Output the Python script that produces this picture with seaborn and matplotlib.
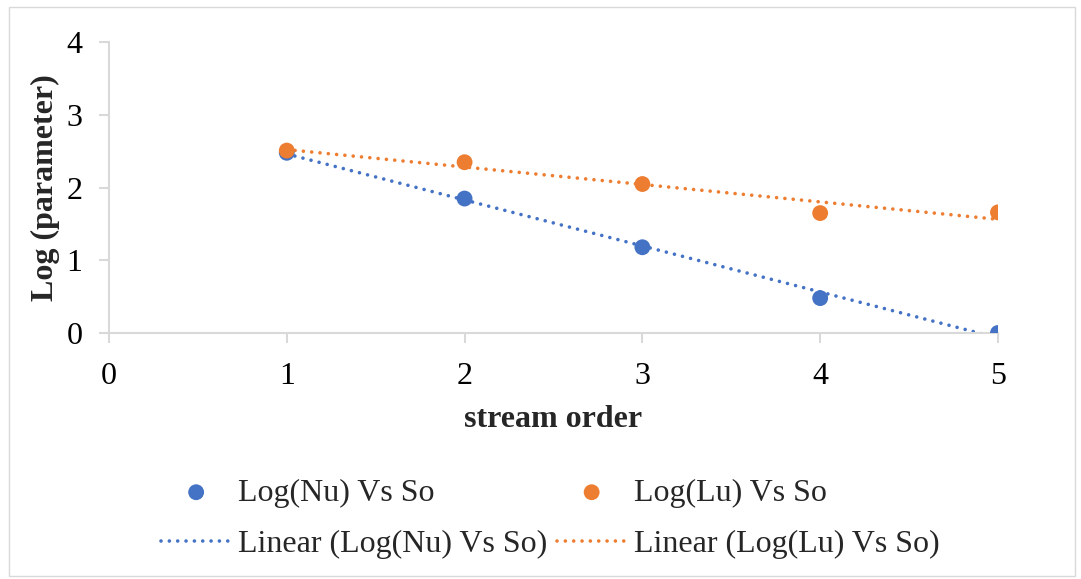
import numpy as np
import pandas as pd
import matplotlib
matplotlib.use("Agg")
import matplotlib.pyplot as plt
import seaborn as sns
from matplotlib.patches import Rectangle

stream_order = [1, 2, 3, 4, 5]
log_nu = [2.48, 1.85, 1.18, 0.48, 0.00]
log_lu = [2.51, 2.35, 2.05, 1.65, 1.66]
x_ticks = [0, 1, 2, 3, 4, 5]
y_ticks = [0, 1, 2, 3, 4]

BLUE = "#4472C4"
ORANGE = "#ED7D31"
GRID = "#D9D9D9"
FS = 23

sns.set_theme(style="white")
plt.rcParams["font.family"] = ["Liberation Serif", "DejaVu Serif"]

df = pd.DataFrame({"x": stream_order, "nu": log_nu, "lu": log_lu})

fig = plt.figure(figsize=(10.81, 5.79), dpi=100)
ax = fig.add_axes([0.1008, 0.4249, 0.8224, 0.502])

# trendlines (least-squares linear fits, as in the original)
line_style = dict(lw=2.6, linestyle=(0, (0.01, 2.3)), dash_capstyle="round")
sns.regplot(data=df, x="x", y="nu", ax=ax, scatter=False, ci=None, truncate=True,
            color=BLUE, line_kws=line_style)
nu_line = ax.lines[-1]
sns.regplot(data=df, x="x", y="lu", ax=ax, scatter=False, ci=None, truncate=True,
            color=ORANGE, line_kws=line_style)
lu_line = ax.lines[-1]

sns.scatterplot(data=df, x="x", y="nu", ax=ax, color=BLUE, s=130, edgecolor="none",
                zorder=3)
sns.scatterplot(data=df, x="x", y="lu", ax=ax, color=ORANGE, s=130, edgecolor="none",
                zorder=3)
nu_pts, lu_pts = ax.collections[-2], ax.collections[-1]

ax.set_xlim(0, 5)
ax.set_ylim(0, 4)
ax.set_xticks(x_ticks)
ax.set_yticks(y_ticks)
ax.tick_params(axis="both", labelsize=FS, color=GRID, length=7, width=1.5,
               direction="out", bottom=True, left=True, labelcolor="black")
ax.tick_params(axis="x", pad=14)
ax.tick_params(axis="y", pad=12)
for s in ["top", "right"]:
    ax.spines[s].set_visible(False)
for s in ["left", "bottom"]:
    ax.spines[s].set_color(GRID)
    ax.spines[s].set_linewidth(1.5)
ax.grid(False)

ax.set_xlabel("stream order", fontsize=FS, fontweight="bold", labelpad=10)
ax.set_ylabel("Log (parameter)", fontsize=FS, fontweight="bold", labelpad=5)

leg_handles = [nu_pts, nu_line, lu_pts, lu_line]
leg_labels = ["Log(Nu) Vs So", "Linear (Log(Nu) Vs So)",
              "Log(Lu) Vs So", "Linear (Log(Lu) Vs So)"]
leg = fig.legend(leg_handles, leg_labels, ncol=2,
                 loc="center", bbox_to_anchor=(0.509, 0.104), frameon=False,
                 fontsize=FS, handlelength=2.2, handletextpad=0.22,
                 columnspacing=0.28, labelspacing=0.7, markerscale=1.0,
                 borderpad=0)

fig.add_artist(Rectangle((0.008, 0.006), 0.986, 0.982, transform=fig.transFigure,
                         fill=False, edgecolor=GRID, lw=1.0))

fig.savefig("out.png", dpi=100, facecolor="white")
